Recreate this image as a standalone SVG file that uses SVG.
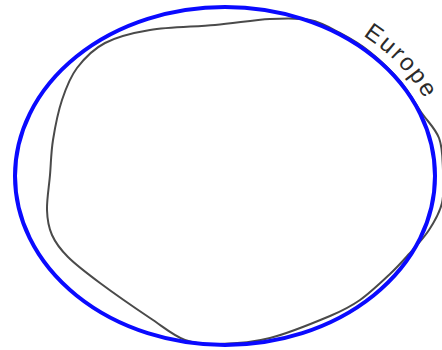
<svg xmlns="http://www.w3.org/2000/svg" width="442" height="350" viewBox="0 0 442 350">
  <style>
    .outline { fill: none; stroke: #4a4a4a; stroke-width: 2; stroke-linejoin: round; }
    .ellipse { fill: none; stroke: #0a0aff; stroke-width: 4; }
    .label { font-family: "Liberation Sans", Arial, sans-serif; font-size: 24px; fill: #2a2a2a; }
  </style>
  <defs>
    <path id="europePath" d="M 318.4 12.9 A 221 180 0 0 1 446 176"/>
  </defs>
  <rect width="442" height="350" fill="#ffffff"/>
  <g id="outline">
    <path class="outline" d="M 150 30 C 168.3 27 195 26.8 215 25 C 235 23.2 254.2 19.8 270 19 C 285.8 18.2 298.3 17.7 310 20 C 321.7 22.3 330 27.7 340 33 C 350 38.3 360 44 370 52 C 380 60 391.5 71 400 81 C 408.5 91 414.5 102.5 421 112 C 427.5 121.5 435.3 128.3 439 138 C 442.7 147.7 442.5 159.2 443 170 C 443.5 180.8 444.3 193 442 203 C 439.7 213 434.5 221.5 429 230 C 423.5 238.5 415.5 246.7 409 254 C 402.5 261.3 398.2 266.3 390 274 C 381.8 281.7 370 293 360 300 C 350 307 345 309.7 330 316 C 315 322.3 288.3 333.3 270 338 C 251.7 342.7 234.2 343.7 220 344 C 205.8 344.3 196.7 344.3 185 340 C 173.3 335.7 164.2 327.5 150 318 C 135.8 308.5 113.7 293.2 100 283 C 86.3 272.8 76 265 68 257 C 60 249 55.5 242.8 52 235 C 48.5 227.2 47.3 220 47 210 C 46.7 200 49 186.7 50 175 C 51 163.3 51 152.5 53 140 C 55 127.5 58 112 62 100 C 66 88 69.8 77.5 77 68 C 84.2 58.5 92.8 49.3 105 43 C 117.2 36.7 131.7 33 150 30 Z"/>
  </g>
  <g id="ellipse">
    <ellipse class="ellipse" cx="225" cy="176" rx="210" ry="169"/>
  </g>
  <g id="europe-label">
    <text class="label" letter-spacing="2.3"><textPath href="#europePath" startOffset="50">Europe</textPath></text>
  </g>
</svg>
